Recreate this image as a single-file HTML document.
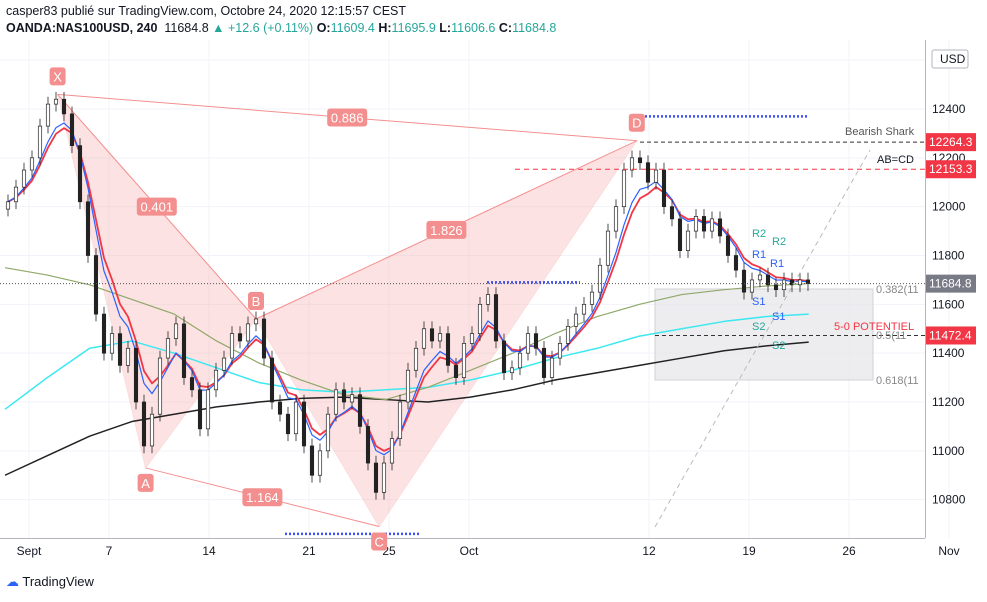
<!DOCTYPE html>
<html><head><meta charset="utf-8">
<style>
body{margin:0;background:#fff;font-family:"Liberation Sans",sans-serif;}
#wrap{position:relative;width:987px;height:602px;overflow:hidden;}
.hdr{position:absolute;left:6px;font-size:12.5px;color:#131722;white-space:nowrap}
</style></head><body>
<div id="wrap">
<div class="hdr" style="top:4px">casper83 publié sur TradingView.com, Octobre 24, 2020 12:15:57 CEST</div>
<div class="hdr" style="top:21px"><b>OANDA:NAS100USD, 240</b>&nbsp; 11684.8 <span style="color:#26a69a">▲ +12.6 (+0.11%)</span> <b>O:</b><span style="color:#26a69a">11609.4</span> <b>H:</b><span style="color:#26a69a">11695.9</span> <b>L:</b><span style="color:#26a69a">11606.6</span> <b>C:</b><span style="color:#26a69a">11684.8</span></div>
<svg id="chart" width="987" height="602" style="position:absolute;left:0;top:0"></svg>
<div style="position:absolute;left:6px;top:574px;font-size:13px;color:#131722"><span style="color:#2962ff">☁</span> TradingView</div>
</div>
<script>
const closes=[12020,12080,12150,12200,12330,12420,12440,12380,12250,12020,11800,11560,11400,11480,11350,11420,11200,11020,11150,11380,11460,11520,11300,11250,11090,11250,11330,11380,11480,11450,11520,11540,11380,11200,11150,11070,11200,11020,10900,11000,11150,11250,11200,11230,11100,10950,10830,10950,11050,11200,11330,11420,11500,11450,11480,11350,11300,11440,11480,11600,11640,11450,11320,11340,11400,11480,11420,11300,11380,11440,11510,11560,11600,11650,11760,11900,12000,12150,12200,12180,12100,12150,12000,11950,11820,11900,11960,11900,11950,11880,11800,11740,11650,11700,11720,11680,11660,11700,11680,11700,11685];
const greenMA=[11750,11720,11680,11620,11560,11450,11360,11290,11230,11210,11260,11330,11400,11480,11550,11600,11640,11660,11675,11685];
const cyanMA=[11170,11300,11420,11450,11400,11340,11280,11250,11240,11250,11260,11290,11330,11380,11420,11470,11500,11530,11550,11560];
const blackMA=[10900,10980,11060,11120,11150,11180,11200,11215,11220,11210,11200,11220,11250,11290,11320,11350,11380,11410,11430,11445];
const priceTicks=[12600,12400,12200,12000,11800,11600,11400,11200,11000,10800];
const dateLabels=["Sept","7","14","21","25","Oct","12","19","26","Nov"];
const dateDays=[0,4,9,14,18,22,31,36,41,46];
const pattern=[["X",12460,6.2],["A",10930,17.2],["B",11540,31],["C",10690,46.4],["D",12270,78.6]];
const ratios=[["0.886",0,4,44],["0.401",0,2,18],["1.826",2,4,54],["1.164",1,3,31]];
const levels=[["12264.3",12264.3,"#f23645"],["12153.3",12153.3,"#f23645"],["11684.8",11684.8,"#787b86"],["11472.4",11472.4,"#f23645"]];
const NS="http://www.w3.org/2000/svg",svg=document.getElementById('chart');
const y=p=>109+(12400-p)*0.24417;
const x=i=>8+8*i;
const xd=d=>29+20*d;
function el(t,a,parent){const e=document.createElementNS(NS,t);for(const k in a)e.setAttribute(k,a[k]);(parent||svg).appendChild(e);return e;}
priceTicks.forEach(p=>{const g=el('line',{x1:0,x2:925,y1:y(p),y2:y(p),stroke:'#f0f3fa'});

});
dateDays.forEach(d=>{const g=el('line',{x1:xd(d),x2:xd(d),y1:40,y2:538,stroke:'#f0f3fa'});

});
el('line',{x1:925.5,x2:925.5,y1:40,y2:538,stroke:'#b2b5be'});
el('line',{x1:0,x2:925,y1:538.5,y2:538.5,stroke:'#b2b5be'});
priceTicks.forEach(p=>{const t=el('text',{x:932,y:y(p)+4,'font-size':12,fill:'#131722'});t.textContent=String(p);

});
dateLabels.forEach((s,k)=>{const t=el('text',{x:xd(dateDays[k]),y:555,'font-size':12,fill:'#131722','text-anchor':'middle'});t.textContent=s;

});
el('rect',{x:932,y:50,width:36,height:18,fill:'#fff',stroke:'#b2b5be',rx:2});
const ut=el('text',{x:940,y:63,'font-size':12,fill:'#131722'});ut.textContent='USD';


const zb=el('rect',{x:655,y:289,width:218,height:91,fill:'#e9e9ec',opacity:0.8,stroke:'#c8c8cc'});


const P=pattern.map(q=>[x(q[2]),y(q[1])]);
[[0,1,2],[2,3,4]].forEach(tr=>{const pg=el('polygon',{points:tr.map(i=>P[i].join(',')).join(' '),fill:'#f7a1a1',opacity:0.3,stroke:'#f48f8f'});

});
[[0,4],[1,3],[0,2],[2,4]].forEach(s=>el('line',{x1:P[s[0]][0],y1:P[s[0]][1],x2:P[s[1]][0],y2:P[s[1]][1],stroke:'#f48f8f'}));
function poly(arr,xf,color,w,name){const pl=el('polyline',{points:arr.map((v,i)=>xf(i)+','+y(v)).join(' '),fill:'none',stroke:color,'stroke-width':w,'stroke-linejoin':'round'});

}
const xm=i=>5+i*42.3;
poly(blackMA,xm,'#222',1.5,'ma-black');
poly(cyanMA,xm,'#3de8f0',1.5,'ma-cyan');
poly(greenMA,xm,'#8fa86a',1.2,'ma-green');
function ema(n){let e=closes[0],o=[];closes.forEach(c=>{e=e+(c-e)*2/(n+1);o.push(e);});return o;}
poly(ema(6),x,'#f23645',1.8,'ema-red');
poly(ema(5),x,'#2962ff',1.2,'ema-blue');
closes.forEach((c,i)=>{const o=i?closes[i-1]:c-30,hi=Math.max(o,c)+30,lo=Math.min(o,c)-30;
const g=el('g',{});


el('line',{x1:x(i),x2:x(i),y1:y(hi),y2:y(lo),stroke:'#222','stroke-width':0.8},g);
el('rect',{x:x(i)-1.7,y:y(Math.max(o,c)),width:3.4,height:Math.max(1,Math.abs(y(o)-y(c))),fill:c>=o?'#fff':'#222',stroke:'#222','stroke-width':0.7},g);});
el('line',{x1:640,x2:925,y1:y(12264.3),y2:y(12264.3),stroke:'#333','stroke-dasharray':'4 3'});
el('line',{x1:515,x2:925,y1:y(12153.3),y2:y(12153.3),stroke:'#f23645','stroke-dasharray':'5 4'});
el('line',{x1:655,x2:925,y1:y(11472.4),y2:y(11472.4),stroke:'#333','stroke-dasharray':'4 3'});
el('line',{x1:0,x2:925,y1:y(11684.8),y2:y(11684.8),stroke:'#555','stroke-dasharray':'1 2'});
el('line',{x1:655,y1:527,x2:870,y2:150,stroke:'#bbb','stroke-dasharray':'5 4'});
[[645,808,12370],[487,580,11690],[285,420,10660]].forEach(s=>el('line',{x1:s[0],x2:s[1],y1:y(s[2]),y2:y(s[2]),stroke:'#3f51f5','stroke-width':2.5,'stroke-dasharray':'2 2'}));
levels.forEach(l=>{const r=el('rect',{x:926,y:y(l[1])-9,width:50,height:18,fill:l[2]});


const t=el('text',{x:929,y:y(l[1])+4,'font-size':12,fill:'#fff'});t.textContent=l[0];});
function lbl(tx,cx,cy,w){el('rect',{x:cx-w/2,y:cy-9,width:w,height:18,rx:3,fill:'#f48f8f'});const t=el('text',{x:cx,y:cy+5,'font-size':13,fill:'#fff','text-anchor':'middle'});t.textContent=tx;

}
pattern.forEach((q,k)=>lbl(q[0],P[k][0],k%2?P[k][1]+15:P[k][1]-18,16));
ratios.forEach(r=>{const a=P[r[1]],b=P[r[2]];lbl(r[0],(a[0]+b[0])/2,(a[1]+b[1])/2,40);});
function txt(s,tx,ty,c,fs){const t=el('text',{x:tx,y:ty,'font-size':fs||11,fill:c});t.textContent=s;

}
txt('Bearish Shark',845,135,'#555');txt('AB=CD',877,163,'#131722');txt('5-0 POTENTIEL',834,330,'#f23645');
txt('0.382(11',876,293,'#888');txt('0.5(11',876,339,'#888');txt('0.618(11',876,384,'#888');
txt('R2',752,237,'#26a69a');txt('R2',772,245,'#26a69a');txt('R1',752,258,'#2962ff');txt('R1',770,267,'#2962ff');
txt('S1',752,305,'#2962ff');txt('S1',772,320,'#2962ff');txt('S2',752,330,'#26a69a');txt('S2',772,349,'#26a69a');
</script>
</body></html>
